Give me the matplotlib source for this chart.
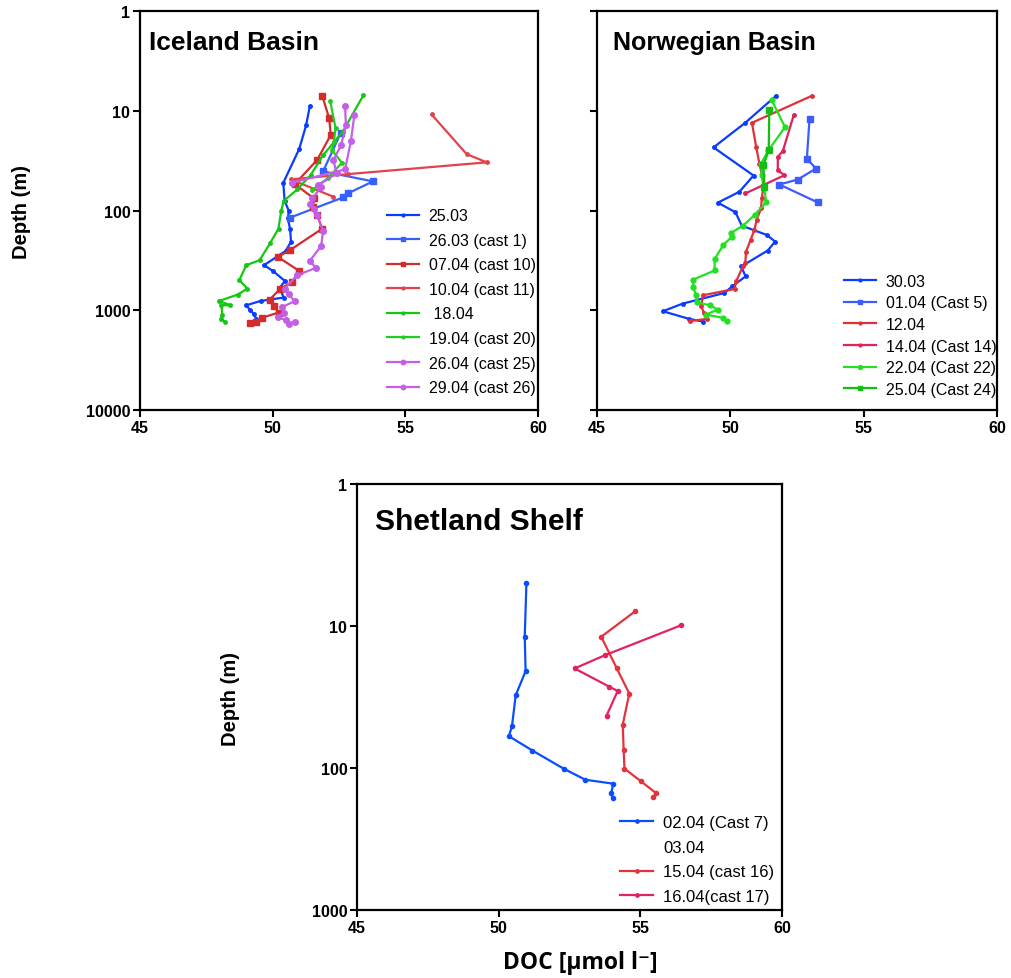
import matplotlib
matplotlib.use("Agg")
import matplotlib.pyplot as plt
from matplotlib.ticker import FixedLocator, FixedFormatter, NullLocator

plt.rcParams['font.family'] = ['Liberation Sans', 'DejaVu Sans']

# ---------------- data ----------------
# Iceland Basin
ib_2503_doc = [51.40, 51.26, 51.00, 50.40, 50.45, 50.61, 50.57, 50.66, 50.69, 50.49, 49.68, 50.02,
               50.46, 50.26, 50.42, 49.55, 49.01, 49.15, 49.28, 49.38, 49.42]
ib_2503_dep = [9.0, 14.0, 24.2, 52.8, 80, 101, 120, 154, 206, 254, 353, 406,
               508, 601, 746, 806, 891, 1000, 1080, 1213, 1310]
ib_2603_doc = [52.56, 51.90, 53.78, 52.83, 52.65, 50.65]
ib_2603_dep = [16.8, 40.5, 51.1, 67.5, 74, 118]
ib_0704_doc = [51.87, 52.13, 52.19, 51.67, 50.83, 51.56, 51.51, 51.67, 51.87, 50.65, 50.19, 51.00,
               50.73, 50.29, 49.89, 50.06, 50.22, 49.58, 49.39, 49.15]
ib_0704_dep = [7.1, 11.9, 17.5, 31.3, 54.4, 75.8, 93.3, 111, 152, 250, 292, 403,
               524, 606, 782, 905, 1055, 1193, 1309, 1340]
ib_1004_doc = [55.99, 57.31, 58.07, 52.83, 50.68, 52.29]
ib_1004_dep = [10.9, 27.2, 32.9, 43.2, 48.8, 72.8]
ib_1804_doc = [53.42, 52.64, 51.90, 51.43, 50.93, 50.42, 50.32, 50.22, 49.91, 49.51, 49.01, 48.74,
               49.05, 48.68, 47.99, 48.41, 48.07, 48.10, 48.05, 48.21]
ib_1804_dep = [7.0, 16.2, 27.9, 44.2, 61.5, 80, 101, 152, 211, 315, 353, 500,
               606, 697, 806, 891, 891, 1105, 1213, 1310]
ib_1904_doc = [52.17, 52.37, 52.30, 52.23, 52.61, 52.07, 51.50]
ib_1904_dep = [8.0, 15.0, 20.5, 24.8, 33.2, 47.7, 62]
ib_2604_doc = [52.73, 52.76, 52.58, 52.29, 52.41, 51.72, 51.81, 51.50, 51.40, 51.56, 51.67, 51.90,
               51.83, 51.40, 51.63, 50.93, 50.46, 50.60, 50.83, 50.36, 50.42, 50.19, 50.49, 50.62, 50.83]
ib_2604_dep = [8.95, 13.9, 22.1, 31.2, 42.5, 55.6, 58.8, 75.8, 86.3, 97, 111, 160,
               226, 320, 376, 445, 606, 691, 812, 927, 1064, 1167, 1260, 1360, 1310]
ib_2904_doc = [53.08, 52.95, 52.73, 50.72]
ib_2904_dep = [11.0, 20.0, 38.7, 52.7]

# Norwegian Basin
nb_3003_doc = [51.72, 50.56, 49.37, 50.87, 50.34, 49.53, 50.19, 50.43, 51.37, 51.68, 51.40, 50.41,
               50.57, 50.07, 49.78, 48.22, 47.47, 48.45, 48.97]
nb_3003_dep = [7.05, 13.2, 23.3, 44.6, 64.9, 83.5, 104, 142, 176, 205, 252, 364,
               458, 576, 671, 857, 1023, 1220, 1297]
nb_0104_doc = [52.97, 52.87, 53.21, 52.53, 51.84, 53.28]
nb_0104_dep = [12.0, 30.2, 38.0, 48.9, 54.9, 83]
nb_1204_doc = [53.05, 50.81, 50.97, 51.09, 51.19, 51.24, 51.18, 51.15, 50.99, 50.90, 50.76, 50.59,
               50.56, 50.47, 50.22, 50.16, 48.97, 48.91, 49.01, 49.13, 48.47]
nb_1204_dep = [7.1, 13.2, 23.1, 33.9, 44.3, 57.9, 75.7, 95.3, 124, 157, 197, 258,
               337, 364, 513, 612, 708, 912, 1062, 1220, 1286]
nb_1404_doc = [52.38, 51.97, 51.78, 51.78, 52.03, 50.56]
nb_1404_dep = [11.0, 25.3, 29.0, 39.5, 44.3, 67.5]
nb_2204_doc = [51.55, 52.05, 51.43, 51.15, 51.19, 51.28, 51.34, 50.91, 50.47, 50.01, 50.06, 49.74,
               49.41, 49.41, 48.60, 48.61, 48.70, 48.75, 49.22, 49.53, 49.09, 49.72, 49.87]
nb_2204_dep = [7.8, 14.6, 24.9, 33.9, 43.6, 59.2, 83, 111, 142, 169, 183, 221,
               307, 399, 494, 585, 697, 832, 891, 985, 1104, 1191, 1286]
nb_2504_doc = [51.46, 51.44, 51.24, 51.28]
nb_2504_dep = [9.9, 24.9, 35.2, 57.9]

# Shetland Shelf
ss_0204_doc = [50.98, 50.92, 50.95, 50.60, 50.47, 50.36, 51.19, 52.29, 53.06, 54.05, 53.97, 54.02]
ss_0204_dep = [4.94, 11.9, 20.8, 30.8, 50.8, 59.7, 75.3, 101, 121, 129, 150, 163]
ss_1504_doc = [54.81, 53.62, 54.17, 54.61, 54.38, 54.41, 54.44, 55.02, 55.55, 55.46]
ss_1504_dep = [7.9, 11.9, 19.9, 29.9, 49.4, 74.1, 101, 124, 150, 161]
ss_1604_doc = [56.43, 53.77, 52.68, 53.91, 54.20, 53.81]
ss_1604_dep = [9.9, 16.0, 19.9, 26.8, 28.7, 42.7]

x_ticks = [45, 50, 55, 60]
y_ticks_4 = [1, 10, 100, 1000, 10000]
y_ticks_3 = [1, 10, 100, 1000]

W, H = 1011, 979
fig = plt.figure(figsize=(W / 100, H / 100), dpi=100)


def make_ax(left, top, right, bottom, yticks, ylabels=True):
    ax = fig.add_axes([left / W, 1 - bottom / H, (right - left) / W, (bottom - top) / H])
    ax.set_yscale('log')
    ax.set_xlim(45, 60)
    ax.set_ylim(yticks[-1], yticks[0])
    ax.xaxis.set_major_locator(FixedLocator(x_ticks))
    ax.xaxis.set_major_formatter(FixedFormatter([str(t) for t in x_ticks]))
    ax.yaxis.set_major_locator(FixedLocator(yticks))
    ax.yaxis.set_minor_locator(NullLocator())
    if ylabels:
        ax.yaxis.set_major_formatter(FixedFormatter([str(t) for t in yticks]))
    else:
        ax.yaxis.set_major_formatter(FixedFormatter([''] * len(yticks)))
    for s in ax.spines.values():
        s.set_linewidth(1.6)
    ax.tick_params(axis='both', which='major', direction='out', length=5, width=1.5,
                   labelsize=11.5, pad=2)
    for lab in ax.get_xticklabels() + ax.get_yticklabels():
        lab.set_fontweight('bold')
    return ax


lw = 1.6
leg_kw = dict(loc='upper left', frameon=False, handlelength=2.0, handletextpad=0.6,
              borderpad=0, borderaxespad=0, markerscale=0.8)

# ---------------- Iceland Basin ----------------
ax1 = make_ax(140, 12, 538, 411, y_ticks_4)
ax1.plot(ib_2503_doc, ib_2503_dep, '-o', color='#0a3cff', lw=lw, ms=2.5, label='25.03')
ax1.plot(ib_2603_doc, ib_2603_dep, '-s', color='#3560ff', lw=lw, ms=4, label='26.03 (cast 1)')
ax1.plot(ib_0704_doc, ib_0704_dep, '-s', color='#d42b2b', lw=lw, ms=4, label='07.04 (cast 10)')
ax1.plot(ib_1004_doc, ib_1004_dep, '-o', color='#e2434a', lw=lw, ms=2.5, label='10.04 (cast 11)')
ax1.plot(ib_1804_doc, ib_1804_dep, '-o', color='#12c812', lw=lw, ms=2.5, label=' 18.04')
ax1.plot(ib_1904_doc, ib_1904_dep, '-o', color='#22cc22', lw=lw, ms=2.5, label='19.04 (cast 20)')
ax1.plot(ib_2604_doc, ib_2604_dep, '-o', color='#c35ee6', lw=lw, ms=4, label='26.04 (cast 25)')
ax1.plot(ib_2904_doc, ib_2904_dep, '-o', color='#c65fea', lw=lw, ms=4, label='29.04 (cast 26)')
ax1.text(0.022, 0.922, 'Iceland Basin', transform=ax1.transAxes, fontsize=19,
         fontweight='bold', va='center', ha='left')
ax1.legend(bbox_to_anchor=(0.621, 0.506), fontsize=11.5, labelspacing=0.6, **leg_kw)

# ---------------- Norwegian Basin ----------------
ax2 = make_ax(597, 12, 997, 411, y_ticks_4, ylabels=False)
ax2.plot(nb_3003_doc, nb_3003_dep, '-o', color='#0a3cff', lw=lw, ms=2.5, label='30.03')
ax2.plot(nb_0104_doc, nb_0104_dep, '-s', color='#3d5cff', lw=lw, ms=4, label='01.04 (Cast 5)')
ax2.plot(nb_1204_doc, nb_1204_dep, '-o', color='#e0303a', lw=lw, ms=2.5, label='12.04')
ax2.plot(nb_1404_doc, nb_1404_dep, '-o', color='#df2358', lw=lw, ms=2.5, label='14.04 (Cast 14)')
ax2.plot(nb_2204_doc, nb_2204_dep, '-o', color='#22e022', lw=lw, ms=3.5, label='22.04 (Cast 22)')
ax2.plot(nb_2504_doc, nb_2504_dep, '-s', color='#10c010', lw=lw, ms=4, label='25.04 (Cast 24)')
ax2.text(0.04, 0.922, 'Norwegian Basin', transform=ax2.transAxes, fontsize=18,
         fontweight='bold', va='center', ha='left')
ax2.legend(bbox_to_anchor=(0.6175, 0.342), fontsize=11.5, labelspacing=0.42, **leg_kw)

# ---------------- Shetland Shelf ----------------
ax3 = make_ax(357, 485, 782, 911, y_ticks_3)
ax3.plot(ss_0204_doc, ss_0204_dep, '-o', color='#0a4cff', lw=lw, ms=3, label='02.04 (Cast 7)')
ax3.plot([], [], linestyle='none', label='03.04')
ax3.plot(ss_1504_doc, ss_1504_dep, '-o', color='#e5323f', lw=lw, ms=3, label='15.04 (cast 16)')
ax3.plot(ss_1604_doc, ss_1604_dep, '-o', color='#e3225f', lw=lw, ms=3, label='16.04(cast 17)')
ax3.text(0.042, 0.913, 'Shetland Shelf', transform=ax3.transAxes, fontsize=21.5,
         fontweight='bold', va='center', ha='left')
ax3.legend(bbox_to_anchor=(0.619, 0.223), fontsize=12, labelspacing=0.58, **leg_kw)

# axis titles
fig.text(22 / W, 1 - 212 / H, 'Depth (m)', rotation=90, fontsize=14.5, fontweight='bold',
         ha='center', va='center')
fig.text(230 / W, 1 - 699 / H, 'Depth (m)', rotation=90, fontsize=14.5, fontweight='bold',
         ha='center', va='center')
fig.text(580 / W, 1 - 963 / H, 'DOC [µmol l⁻]', fontsize=16.5, fontweight='bold',
         ha='center', va='center', family=['Open Sans', 'DejaVu Sans'])

fig.savefig('out.png', dpi=100)
